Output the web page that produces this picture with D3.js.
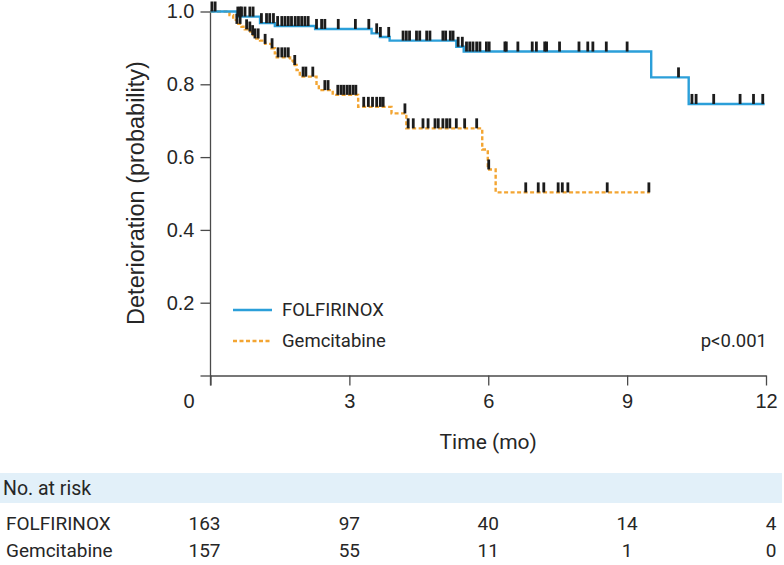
<!DOCTYPE html>
<html><head><meta charset="utf-8">
<script src="https://cdn.jsdelivr.net/npm/d3@7"></script>
<style>body{margin:0;background:#fff}svg{display:block}</style>
</head><body>
<svg id="c" width="784" height="565"></svg>
<script>
// ---- data ----
const xTicks = [0, 3, 6, 9, 12];
const yTicks = [0, 0.2, 0.4, 0.6, 0.8, 1.0];
const seriesNames = ["FOLFIRINOX", "Gemcitabine"];
// FOLFIRINOX step drops: times and survival after drop
const folfTimes = [0.57, 1.07, 1.39, 2.26, 3.48, 3.66, 3.87, 5.31, 5.47, 9.52, 10.33];
const folfSurv  = [0.986, 0.968, 0.96, 0.952, 0.94, 0.93, 0.92, 0.903, 0.89, 0.819, 0.746];
const folfEnd = 11.97;
const folfCensor = [0.03, 0.1, 0.59, 0.64, 0.67, 0.745, 0.85, 0.92, 1.1, 1.21, 1.28, 1.36,
  1.45, 1.54, 1.61, 1.68, 1.75, 1.83, 1.90, 1.97, 2.04, 2.11, 2.29, 2.40, 2.47, 2.76, 3.13,
  3.42, 3.59, 3.67, 3.85, 4.16, 4.23, 4.30, 4.45, 4.52, 4.67, 4.74, 5.02, 5.08, 5.18, 5.24,
  5.35, 5.44, 5.53, 5.60, 5.67, 5.75, 5.82, 5.96, 6.02, 6.36, 6.39, 6.64, 6.95, 7.04, 7.22,
  7.26, 7.54, 7.96, 8.15, 8.26, 8.55, 9.0, 10.11, 10.40, 10.49, 10.87, 11.44, 11.73, 11.93];
// Gemcitabine
const gemTimes = [0.41, 0.49, 0.57, 0.67, 0.74, 0.82, 0.89, 0.96, 1.07, 1.18, 1.32, 1.39, 1.43,
  1.72, 1.79, 1.86, 1.93, 2.29, 2.34, 2.64, 3.19, 3.91, 4.23, 5.87, 5.99, 6.16];
const gemSurv  = [0.990, 0.977, 0.966, 0.958, 0.951, 0.945, 0.935, 0.926, 0.920, 0.911, 0.899,
  0.885, 0.874, 0.865, 0.853, 0.839, 0.821, 0.798, 0.784, 0.771, 0.738, 0.720, 0.679, 0.621, 0.566, 0.503];
const gemEnd = 9.49;
const gemCensor = [0.57, 0.64, 0.78, 0.85, 0.91, 0.96, 1.03, 1.18, 1.33, 1.46, 1.54, 1.61, 1.68,
  1.82, 2.0, 2.06, 2.21, 2.47, 2.54, 2.75, 2.82, 2.88, 2.95, 3.01, 3.08, 3.14, 3.31, 3.41, 3.50,
  3.59, 3.67, 3.73, 4.20, 4.27, 4.38, 4.59, 4.70, 4.85, 4.92, 5.02, 5.10, 5.17, 5.31, 5.49, 5.75,
  6.01, 6.81, 7.08, 7.20, 7.51, 7.60, 7.72, 8.57, 9.47];
const riskTimes = [0, 3, 6, 9, 12];
const folfRisk = [163, 97, 40, 14, 4];
const gemRisk  = [157, 55, 11, 1, 0];

// ---- chart ----
const svg = d3.select("#c");
const x = d3.scaleLinear().domain([0, 12]).range([210.5, 766]);
const y = d3.scaleLinear().domain([0, 1]).range([375.5, 11.5]);
const axisColor = "#4a4a4a";
const blue = "#2b9fd9", orange = "#f3a532";
const tickFont = "'Liberation Sans', Arial, sans-serif";
const txtFont = "Roboto, 'Noto Sans', sans-serif";
const textColor = "#262626";

// axes
const yAxis = svg.append("g").attr("transform", `translate(${x(0)},0)`)
  .call(d3.axisLeft(y).tickValues(yTicks).tickSize(10).tickSizeOuter(0)
    .tickFormat(d => d === 0 ? "" : d3.format(".1f")(d)));
yAxis.select(".domain").attr("stroke", axisColor).attr("stroke-width", 1.3)
  .attr("d", `M0,${y(1)}V${y(0) + 10}`);
yAxis.selectAll(".tick line").attr("stroke", axisColor).attr("stroke-width", 1.3);
yAxis.selectAll(".tick text").attr("font-family", tickFont).attr("font-size", 20)
  .attr("fill", textColor).attr("x", -16);

const xAxis = svg.append("g").attr("transform", `translate(0,${y(0)})`)
  .call(d3.axisBottom(x).tickValues(xTicks).tickSize(10).tickSizeOuter(0).tickFormat(d3.format("d")));
xAxis.select(".domain").attr("stroke", axisColor).attr("stroke-width", 1.3);
xAxis.selectAll(".tick line").attr("stroke", axisColor).attr("stroke-width", 1.3);
xAxis.selectAll(".tick text").attr("font-family", tickFont).attr("font-size", 20)
  .attr("fill", textColor).attr("dy", "0.98em")
  .attr("x", d => d === 0 ? -22 : 0);

svg.append("text").attr("x", x(6)).attr("y", 449).attr("text-anchor", "middle")
  .attr("font-family", txtFont).attr("font-size", 21).attr("fill", textColor).text("Time (mo)");
svg.append("text").attr("transform", `translate(144,193) rotate(-90)`)
  .attr("text-anchor", "middle").attr("font-family", tickFont).attr("font-size", 23.5)
  .attr("fill", textColor).text("Deterioration (probability)");

// curves
function stepPoints(times, surv, end) {
  const pts = [[0, 1]];
  times.forEach((t, i) => pts.push([t, surv[i]]));
  pts.push([end, surv[surv.length - 1]]);
  return pts;
}
function survAt(times, surv, t) {
  let s = 1;
  times.forEach((tt, i) => { if (tt <= t) s = surv[i]; });
  return s;
}
const line = d3.line().x(d => x(d[0])).y(d => y(d[1])).curve(d3.curveStepAfter);

svg.append("path").datum(stepPoints(gemTimes, gemSurv, gemEnd)).attr("d", line)
  .attr("fill", "none").attr("stroke", orange).attr("stroke-width", 2.4)
  .attr("stroke-dasharray", "4,2.5");
svg.append("path").datum(stepPoints(folfTimes, folfSurv, folfEnd)).attr("d", line)
  .attr("fill", "none").attr("stroke", blue).attr("stroke-width", 2.4);

function censor(times, surv, cs) {
  svg.append("g").selectAll("rect").data(cs).join("rect")
    .attr("x", d => x(d) - 1.4).attr("width", 2.8)
    .attr("y", d => y(survAt(times, surv, d)) - 10).attr("height", 10)
    .attr("fill", "#1c1c1c");
}
censor(gemTimes, gemSurv, gemCensor);
censor(folfTimes, folfSurv, folfCensor);

// legend
const leg = svg.append("g");
leg.append("line").attr("x1", 233).attr("x2", 272).attr("y1", 310).attr("y2", 310)
  .attr("stroke", blue).attr("stroke-width", 2.4);
leg.append("line").attr("x1", 233).attr("x2", 272).attr("y1", 341).attr("y2", 341)
  .attr("stroke", orange).attr("stroke-width", 2.4).attr("stroke-dasharray", "4,2.5");
leg.append("text").attr("x", 282).attr("y", 316).attr("font-family", txtFont).attr("font-size", 18.5)
  .attr("fill", textColor).text(seriesNames[0]);
leg.append("text").attr("x", 282).attr("y", 347).attr("font-family", txtFont).attr("font-size", 18.5)
  .attr("fill", textColor).text(seriesNames[1]);
svg.append("text").attr("x", 767).attr("y", 347).attr("text-anchor", "end")
  .attr("font-family", txtFont).attr("font-size", 18.5).attr("fill", textColor).text("p<0.001");

// risk table
svg.append("rect").attr("x", 0).attr("y", 473).attr("width", 782).attr("height", 30).attr("fill", "#e2f0f9");
svg.append("text").attr("x", 3).attr("y", 495).attr("font-family", txtFont).attr("font-size", 19.5)
  .attr("fill", textColor).text("No. at risk");
const rows = [[seriesNames[0], folfRisk, 530], [seriesNames[1], gemRisk, 557]];
rows.forEach(([name, vals, yy]) => {
  svg.append("text").attr("x", 6).attr("y", yy).attr("font-family", txtFont).attr("font-size", 19)
    .attr("fill", textColor).text(name);
  svg.append("g").selectAll("text").data(vals).join("text")
    .attr("x", (d, i) => x(riskTimes[i]) + (i === 0 ? -6 : 0) + (i === 4 ? 5 : 0))
    .attr("y", yy).attr("text-anchor", "middle").attr("font-family", txtFont).attr("font-size", 19)
    .attr("fill", textColor).text(d => d);
});
</script>
</body></html>
